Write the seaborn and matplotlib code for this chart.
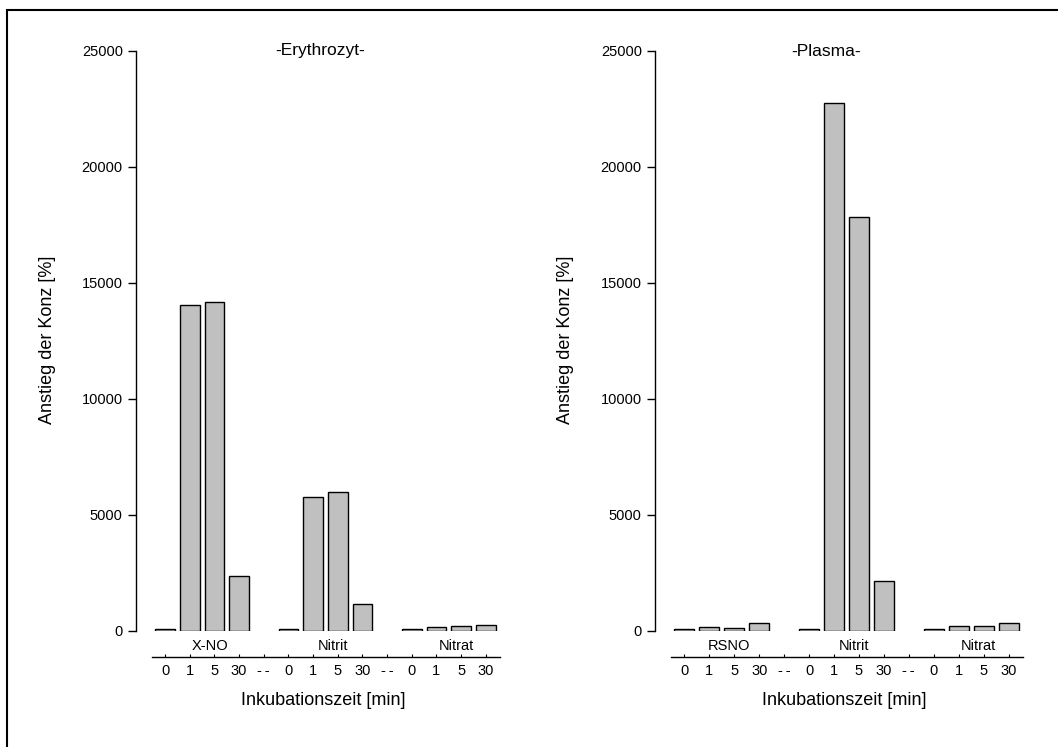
import pandas as pd
import matplotlib
matplotlib.use("Agg")
import matplotlib.pyplot as plt
import matplotlib.transforms as mtransforms
from matplotlib.patches import Rectangle
import seaborn as sns

# Data
times = ['0', '1', '5', '30']

ery_groups = ['X-NO', 'Nitrit', 'Nitrat']
ery_xno = [100, 14050, 14200, 2350]
ery_nitrit = [100, 5780, 5980, 1180]
ery_nitrat = [100, 160, 210, 280]

pla_groups = ['RSNO', 'Nitrit', 'Nitrat']
pla_rsno = [100, 160, 150, 350]
pla_nitrit = [100, 22750, 17850, 2150]
pla_nitrat = [100, 200, 200, 350]

yticks = [0, 5000, 10000, 15000, 20000, 25000]


def make_frame(groups, series):
    rows = []
    for g, vals in zip(groups, series):
        for t, v in zip(times, vals):
            rows.append({'key': f'{g} {t}', 'value': v})
    return pd.DataFrame(rows)


def make_order(groups):
    order, labels = [], []
    for i, g in enumerate(groups):
        order += [f'{g} {t}' for t in times]
        labels += times
        if i < len(groups) - 1:
            order.append(f'sep{i}')
            labels.append('-\u2009-')
    return order, labels


def draw_panel(ax, groups, series, title, title_x):
    df = make_frame(groups, series)
    order, labels = make_order(groups)
    sns.barplot(data=df, x='key', y='value', order=order, ax=ax,
                color='#C0C0C0', saturation=1, width=0.8,
                edgecolor='black', linewidth=1.0, errorbar=None)

    ax.set_ylim(0, 25000)
    ax.set_xlim(-1.18, 13.58)
    ax.set_yticks(yticks)
    ax.set_xticks(range(len(labels)))
    ax.set_xticklabels(labels)

    for s in ['top', 'right']:
        ax.spines[s].set_visible(False)
    ax.spines['bottom'].set_position(('outward', 18.7))
    ax.spines['bottom'].set_bounds(-0.54, 13.58)
    ax.spines['left'].set_linewidth(1.0)
    ax.spines['bottom'].set_linewidth(1.0)
    ax.spines['left'].set_color('black')
    ax.spines['bottom'].set_color('black')

    ax.tick_params(axis='y', left=True, direction='out', length=5.5, width=1.0,
                   pad=4, labelsize=10.5, color='black', labelcolor='black')
    ax.tick_params(axis='x', bottom=True, direction='in', length=2.5, width=0.8,
                   pad=5, labelsize=10.5, color='black', labelcolor='black')

    trans = mtransforms.blended_transform_factory(ax.transData, ax.transAxes)
    for i, g in enumerate(groups):
        ax.text(i * 5 + 1.5 + 0.3, -0.026, g, transform=trans,
                ha='center', va='center', fontsize=10.5, color='black')

    ax.text(title_x, 1.0, title, transform=ax.transAxes,
            ha='center', va='center', fontsize=12.5, color='black')

    ax.set_xlabel('Inkubationszeit [min]', fontsize=13, color='black')
    ax.set_ylabel('Anstieg der Konz [%]', fontsize=13, color='black')
    ax.xaxis.set_label_coords(0.514, -0.119)
    ax.xaxis.label.set_va('center')
    ax.yaxis.set_label_coords(-0.242, 0.502)
    ax.yaxis.label.set_va('center')


sns.set_style('white')
plt.rcParams['font.family'] = ['Liberation Sans', 'DejaVu Sans']

W, H = 1058, 747
fig = plt.figure(figsize=(W / 100, H / 100), dpi=100)

ax1 = fig.add_axes([136 / W, 1 - 631 / H, (500 - 136) / W, 580 / H])
ax2 = fig.add_axes([655 / W, 1 - 631 / H, (1023 - 655) / W, 580 / H])

draw_panel(ax1, ery_groups, [ery_xno, ery_nitrit, ery_nitrat], '-Erythrozyt-', 0.505)
draw_panel(ax2, pla_groups, [pla_rsno, pla_nitrit, pla_nitrat], '-Plasma-', 0.465)

# outer frame (only top and left edges visible in the reference)
fig.patches.append(Rectangle((7 / W, -0.1), 1.2, 1 - 10 / H + 0.1,
                             transform=fig.transFigure, fill=False,
                             edgecolor='black', linewidth=1.5))

fig.savefig('out.png', dpi=100)
